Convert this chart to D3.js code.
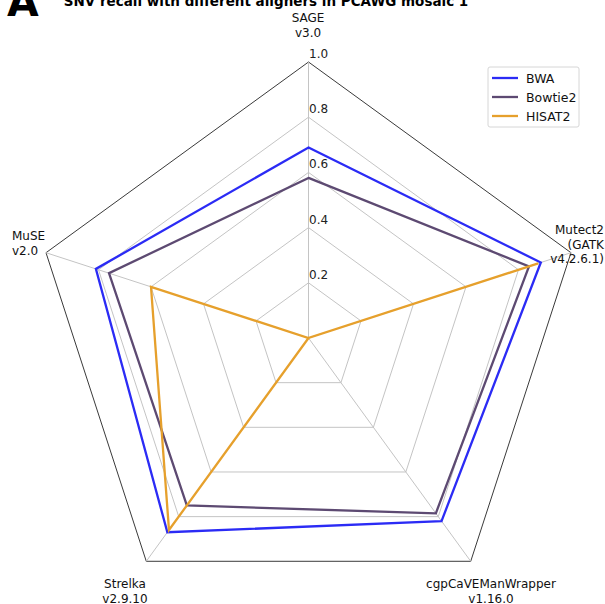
<!DOCTYPE html>
<html>
<head>
<meta charset="utf-8">
<script src="https://cdn.jsdelivr.net/npm/d3@7"></script>
<style>
  html, body { margin: 0; padding: 0; background: #fff; }
  svg { display: block; font-family: "DejaVu Sans", sans-serif; }
</style>
</head>
<body>
<svg id="chart" width="605" height="604"></svg>
<script>
// Callers (axes), clockwise from the top
const callers = [
  ["SAGE", "v3.0"],
  ["Mutect2", "(GATK", "v4.2.6.1)"],
  ["cgpCaVEManWrapper", "v1.16.0"],
  ["Strelka", "v2.9.10"],
  ["MuSE", "v2.0"]
];
const aligners = ["BWA", "Bowtie2", "HISAT2"];
const bwaRecall     = [0.69, 0.885, 0.82, 0.87, 0.81];
const bowtie2Recall = [0.58, 0.84, 0.785, 0.75, 0.76];
const hisat2Recall  = [0.0, 0.875, 0.0, 0.86, 0.60];
const ringTicks = [0.2, 0.4, 0.6, 0.8, 1.0];
const colors = ["#2b2bf5", "#5d4a72", "#e6a02c"];

const series = [bwaRecall, bowtie2Recall, hisat2Recall];

const svg = d3.select("#chart");
const cx = 308.5, cy = 338, R = 276;

const r = d3.scaleLinear().domain([0, 1]).range([0, R]);
const angle = d3.scalePoint().domain(d3.range(callers.length + 1)).range([0, 2 * Math.PI]);
const pt = (i, v) => {
  const a = angle(i);
  return [cx + r(v) * Math.sin(a), cy - r(v) * Math.cos(a)];
};

const g = svg.append("g");

// Rings
ringTicks.forEach(t => {
  const pts = callers.map((_, i) => pt(i, t));
  g.append("polygon")
    .attr("points", pts.map(p => p.join(",")).join(" "))
    .attr("fill", "none")
    .attr("stroke", t === 1 ? "#3a3a3a" : "#c4c4c4")
    .attr("stroke-width", 1);
});

// Spokes
callers.forEach((_, i) => {
  const [x, y] = pt(i, 1);
  g.append("line")
    .attr("x1", cx).attr("y1", cy).attr("x2", x).attr("y2", y)
    .attr("stroke", "#c4c4c4").attr("stroke-width", 1);
});

// Ring labels along the top spoke
ringTicks.forEach(t => {
  const [x, y] = pt(0, t);
  g.append("text")
    .attr("x", x + 0.5).attr("y", y - 4)
    .attr("font-size", 12).attr("fill", "#222")
    .text(t.toFixed(1));
});

// Series polygons
const line = d3.line().curve(d3.curveLinearClosed);
series.forEach((vals, s) => {
  g.append("path")
    .attr("d", line(vals.map((v, i) => pt(i, v))))
    .attr("fill", "none")
    .attr("stroke", colors[s])
    .attr("stroke-width", 2.3)
    .attr("stroke-linejoin", "miter");
});

// Axis labels
const labelSpec = [
  { x: 308, y: 22, anchor: "middle" },
  { x: 604, y: 234, anchor: "end" },
  { x: 491, y: 588, anchor: "middle" },
  { x: 125, y: 588, anchor: "middle" },
  { x: 12, y: 240, anchor: "start" }
];
callers.forEach((lines, i) => {
  const s = labelSpec[i];
  const t = g.append("text")
    .attr("x", s.x).attr("y", s.y)
    .attr("text-anchor", s.anchor)
    .attr("font-size", 12).attr("fill", "#111");
  lines.forEach((ln, k) => {
    t.append("tspan").attr("x", s.x).attr("dy", k === 0 ? 0 : 14.5).text(ln);
  });
});

// Legend
const lg = svg.append("g").attr("transform", "translate(488,67)");
lg.append("rect")
  .attr("width", 91).attr("height", 60).attr("rx", 2)
  .attr("fill", "#fff").attr("stroke", "#d6d6d6");
aligners.forEach((name, k) => {
  const y = 11 + k * 19;
  lg.append("line")
    .attr("x1", 4).attr("x2", 30).attr("y1", y).attr("y2", y)
    .attr("stroke", colors[k]).attr("stroke-width", 2.3);
  lg.append("text")
    .attr("x", 38).attr("y", y + 4.5)
    .attr("font-size", 12.5).attr("fill", "#111")
    .text(name);
});

// Title and panel letter
svg.append("text")
  .attr("x", 266).attr("y", 6)
  .attr("text-anchor", "middle")
  .attr("font-size", 13.5).attr("font-weight", "bold").attr("fill", "#000")
  .text("SNV recall with different aligners in PCAWG mosaic 1");
svg.append("text")
  .attr("x", 7).attr("y", 16)
  .attr("font-size", 41).attr("font-weight", "bold").attr("fill", "#000")
  .text("A");
</script>
</body>
</html>
